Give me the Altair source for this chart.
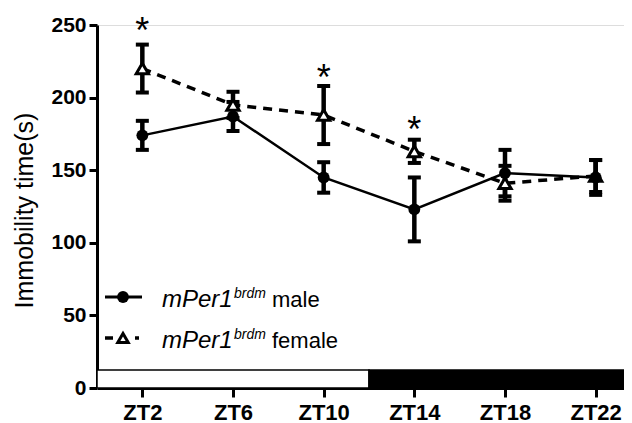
import altair as alt
import pandas as pd

# ---- data ----
hours = [2, 6, 10, 14, 18, 22]
x_labels = ["ZT2", "ZT6", "ZT10", "ZT14", "ZT18", "ZT22"]
male_mean = [174, 187, 145, 123, 148, 145]
male_sem = [10, 10, 10.5, 22, 16, 12]
female_mean = [220, 195, 188, 163, 141, 146]
female_sem = [16.5, 9, 20, 8, 12, 11]
y_ticks = [0, 50, 100, 150, 200, 250]

star_hours = [2, 10, 14]
star_levels = [252, 220, 184]

phase_start = [0, 12]
phase_end = [12, 24]
phase_top = [12.4, 12.4]
phase_name = ["light", "dark"]

series_names = ["male", "female"]

FONT = "Liberation Sans"

df = pd.DataFrame({
    "hour": hours * 2,
    "mean": male_mean + female_mean,
    "sem": male_sem + female_sem,
    "sex": ["male"] * len(hours) + ["female"] * len(hours),
})
df["lo"] = df["mean"] - df["sem"]
df["hi"] = df["mean"] + df["sem"]
male = df[df.sex == "male"]
female = df[df.sex == "female"]

stars = pd.DataFrame({"hour": star_hours, "lev": star_levels, "t": ["*"] * 3})
phases = pd.DataFrame({"hour": phase_start, "e": phase_end, "top": phase_top, "ph": phase_name})

label_expr = "{" + ",".join(f"'{h}':'{l}'" for h, l in zip(hours, x_labels)) + "}[datum.value]"

xscale = alt.Scale(domain=[0, 23.25], nice=False, zero=False)
yscale = alt.Scale(domain=[0, 250], nice=False)

x_axis = alt.Axis(values=hours, labelExpr=label_expr, title=None, grid=False,
                  domainWidth=3, domainColor="black", tickWidth=3, tickColor="black",
                  tickSize=9, labelFont=FONT, labelFontSize=22, labelFontWeight="bold",
                  labelColor="black", labelPadding=5)
YTITLE = "Immobility time(s)"
y_axis = alt.Axis(values=y_ticks, title=YTITLE, grid=False,
                  domainWidth=3, domainColor="black", tickWidth=3, tickColor="black",
                  tickSize=8, labelFont=FONT, labelFontSize=21, labelFontWeight="bold",
                  labelColor="black", labelPadding=3,
                  titleFont=FONT, titleFontSize=25, titleFontWeight="normal", titleColor="black",
                  titleAngle=-90, titleX=-73, titleY=185, titleAlign="center", titleBaseline="middle")

base_x = alt.X("hour:Q", scale=xscale, axis=x_axis, title=None)

def Y(field):
    return alt.Y(field, scale=yscale, axis=y_axis, title=YTITLE)

# light/dark bar
light_dark = alt.Chart(phases).mark_rect(clip=True, stroke="black", strokeWidth=1.5).encode(
    x=base_x,
    x2="e:Q",
    y=Y("top:Q"),
    y2=alt.datum(0),
    fill=alt.Fill("ph:N", scale=alt.Scale(domain=phase_name, range=["white", "black"]), legend=None),
)

def errbars(d):
    rule = alt.Chart(d).mark_rule(strokeWidth=4.5, color="black").encode(
        x=base_x, y=Y("lo:Q"), y2="hi:Q")
    cap_hi = alt.Chart(d).mark_tick(orient="horizontal", size=13, thickness=4, color="black", opacity=1).encode(
        x=base_x, y=Y("hi:Q"))
    cap_lo = alt.Chart(d).mark_tick(orient="horizontal", size=13, thickness=4, color="black", opacity=1).encode(
        x=base_x, y=Y("lo:Q"))
    return rule + cap_hi + cap_lo

female_line = alt.Chart(female).mark_line(color="black", strokeWidth=3.5, strokeDash=[9, 7]).encode(x=base_x, y=Y("mean:Q"))
male_line = alt.Chart(male).mark_line(color="black", strokeWidth=2.5).encode(x=base_x, y=Y("mean:Q"))
male_pts = alt.Chart(male).mark_point(shape="circle", filled=True, size=140, color="black", opacity=1).encode(x=base_x, y=Y("mean:Q"))
female_pts = alt.Chart(female).mark_point(shape="triangle-up", filled=True, size=150, fill="white",
                                          stroke="black", strokeWidth=3, opacity=1).encode(x=base_x, y=Y("mean:Q"))

star_txt = alt.Chart(stars).mark_text(font=FONT, fontSize=36, color="black", baseline="alphabetic", dy=21).encode(
    x=base_x, y=Y("lev:Q"), text="t:N")

# legend (hand-built, rich text)
one = pd.DataFrame({"k": [0]})
leg = []
rows = {"male": 272, "female": 313}
for name in series_names:
    yy = rows[name]
    if name == "male":
        leg.append(alt.Chart(one).mark_rule(color="black", strokeWidth=3).encode(
            x=alt.value(8), x2=alt.value(45), y=alt.value(yy)))
        leg.append(alt.Chart(one).mark_point(shape="circle", filled=True, size=140, color="black", opacity=1).encode(
            x=alt.value(26), y=alt.value(yy)))
    else:
        leg.append(alt.Chart(one).mark_rule(color="black", strokeWidth=3.5, strokeDash=[8, 22, 4, 100]).encode(
            x=alt.value(8), x2=alt.value(45), y=alt.value(yy)))
        leg.append(alt.Chart(one).mark_point(shape="triangle-up", filled=True, size=110, fill="white",
                                             stroke="black", strokeWidth=3, opacity=1).encode(
            x=alt.value(26), y=alt.value(yy)))
    base_line = yy + 10
    leg.append(alt.Chart(one).mark_text(text="mPer1", font=FONT, fontSize=24, fontStyle="italic",
                                        align="left", baseline="alphabetic", color="black").encode(
        x=alt.value(65), y=alt.value(base_line)))
    leg.append(alt.Chart(one).mark_text(text="brdm", font=FONT, fontSize=14, fontStyle="italic",
                                        align="left", baseline="alphabetic", color="black").encode(
        x=alt.value(137), y=alt.value(base_line - 9)))
    leg.append(alt.Chart(one).mark_text(text=name, font=FONT, fontSize=22,
                                        align="left", baseline="alphabetic", color="black").encode(
        x=alt.value(175), y=alt.value(base_line)))

chart = alt.layer(
    light_dark,
    errbars(female), errbars(male),
    female_line, male_line,
    female_pts, male_pts,
    star_txt,
    *leg,
).properties(
    width=527, height=363,
    autosize=alt.AutoSizeParams(type="none"),
    padding={"left": 89, "top": 17, "right": 0, "bottom": 35},
).configure_view(stroke=None).configure(background="white")

chart.save("out.html", embed_options={"renderer": "svg", "actions": False})
